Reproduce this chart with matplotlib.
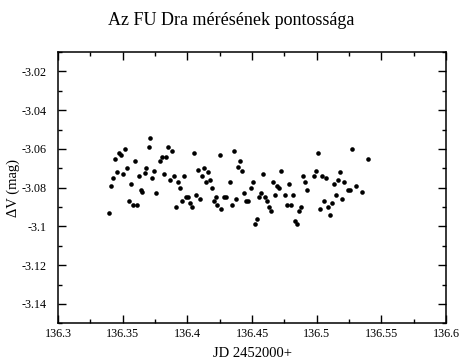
import matplotlib
matplotlib.use('Agg')
import matplotlib.pyplot as plt
from matplotlib.ticker import MultipleLocator, FormatStrFormatter

# Julian date (JD - 2452000) of each measurement
jd = [
    136.3398, 136.3413, 136.3426, 136.3441, 136.3457, 136.3472, 136.3488, 136.3503,
    136.3518, 136.3534, 136.3547, 136.3563, 136.3578, 136.3594, 136.3609, 136.3624,
    136.3638, 136.3653, 136.3669, 136.3684, 136.3700, 136.3715, 136.3730, 136.3746,
    136.3761, 136.3789, 136.3805, 136.3820, 136.3836, 136.3851, 136.3867, 136.3882,
    136.3898, 136.3913, 136.3929, 136.3944, 136.3960, 136.3975, 136.3990, 136.4006,
    136.4021, 136.4037, 136.4050, 136.4066, 136.4081, 136.4097, 136.4112, 136.4127,
    136.4141, 136.4156, 136.4172, 136.4187, 136.4203, 136.4218, 136.4233, 136.4249,
    136.4264, 136.4280, 136.4295, 136.4326, 136.4342, 136.4357, 136.4373, 136.4388,
    136.4404, 136.4419, 136.4435, 136.4450, 136.4466, 136.4493, 136.4509, 136.4524,
    136.4540, 136.4555, 136.4571, 136.4586, 136.4602, 136.4617, 136.4630, 136.4646,
    136.4661, 136.4677, 136.4692, 136.4708, 136.4721, 136.4752, 136.4767, 136.4783,
    136.4798, 136.4814, 136.4829, 136.4845, 136.4860, 136.4876, 136.4891, 136.4907,
    136.4922, 136.4981, 136.4996, 136.5012, 136.5027, 136.5043, 136.5056, 136.5072,
    136.5087, 136.5102, 136.5118, 136.5133, 136.5149, 136.5164, 136.5180, 136.5195,
    136.5211, 136.5239, 136.5255, 136.5270, 136.5301, 136.5348, 136.5394,
]

# differential magnitude
dmag = [
    -3.0929, -3.0791, -3.0751, -3.0652, -3.0720, -3.0621, -3.0632, -3.0731,
    -3.0602, -3.0701, -3.0869, -3.0782, -3.0890, -3.0660, -3.0890, -3.0741,
    -3.0811, -3.0822, -3.0722, -3.0701, -3.0592, -3.0542, -3.0751, -3.0712,
    -3.0830, -3.0662, -3.0642, -3.0731, -3.0642, -3.0592, -3.0761, -3.0612,
    -3.0741, -3.0900, -3.0772, -3.0801, -3.0869, -3.0741, -3.0850, -3.0850,
    -3.0880, -3.0900, -3.0621, -3.0840, -3.0710, -3.0861, -3.0741, -3.0701,
    -3.0772, -3.0720, -3.0761, -3.0801, -3.0869, -3.0850, -3.0890, -3.0632,
    -3.0909, -3.0850, -3.0850, -3.0772, -3.0890, -3.0612, -3.0861, -3.0691,
    -3.0660, -3.0712, -3.0830, -3.0871, -3.0871, -3.0801, -3.0772, -3.0989,
    -3.0960, -3.0850, -3.0830, -3.0731, -3.0850, -3.0871, -3.0900, -3.0919,
    -3.0772, -3.0840, -3.0791, -3.0801, -3.0712, -3.0840, -3.0890, -3.0782,
    -3.0890, -3.0840, -3.0971, -3.0989, -3.0921, -3.0900, -3.0741, -3.0772,
    -3.0811, -3.0741, -3.0712, -3.0621, -3.0910, -3.0741, -3.0871, -3.0751,
    -3.0900, -3.0940, -3.0881, -3.0782, -3.0840, -3.0761, -3.0720, -3.0861,
    -3.0772, -3.0811, -3.0811, -3.0602, -3.0791, -3.0822, -3.0652,
]

plt.rcParams['font.family'] = ['Liberation Serif', 'DejaVu Serif']
plt.rcParams['axes.unicode_minus'] = False

fig = plt.figure(figsize=(4.62, 3.61), dpi=100)
ax = fig.add_axes([0.1255, 0.1044, 0.84, 0.7516])

ax.plot(jd, dmag, 'o', color='black', markersize=3.3, markeredgewidth=0)

ax.set_xlim(136.3, 136.6)
ax.set_ylim(-3.15, -3.01)

ax.xaxis.set_major_locator(MultipleLocator(0.05))
ax.xaxis.set_minor_locator(MultipleLocator(0.025))
ax.yaxis.set_major_locator(MultipleLocator(0.02))
ax.yaxis.set_minor_locator(MultipleLocator(0.01))
ax.xaxis.set_major_formatter(FormatStrFormatter('%g'))
ax.yaxis.set_major_formatter(FormatStrFormatter('%g'))

ax.tick_params(which='both', direction='in', top=True, right=True,
               labelsize=8.7, width=1)
ax.tick_params(which='major', length=5.5)
ax.tick_params(which='minor', length=3)
ax.tick_params(axis='x', pad=3.5)
ax.tick_params(axis='y', pad=8)
for spine in ax.spines.values():
    spine.set_linewidth(1.1)

ax.set_xlabel('JD 2452000+', fontsize=10.5, labelpad=5)
ax.set_ylabel('\u0394V (mag)', fontsize=10.5, labelpad=1)
fig.suptitle('Az FU Dra mérésének pontossága', fontsize=13, y=0.944, va='center')

fig.savefig('out.png', dpi=100)
